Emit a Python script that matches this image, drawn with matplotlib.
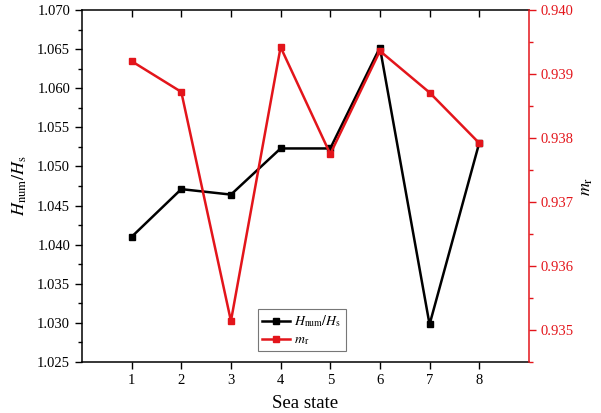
import numpy as np
import matplotlib.pyplot as plt
from matplotlib.ticker import MultipleLocator, AutoMinorLocator

plt.rcParams['font.family'] = 'Liberation Serif'
plt.rcParams['mathtext.fontset'] = 'stix'

sea_state = [1, 2, 3, 4, 5, 6, 7, 8]
h_ratio = [1.0410, 1.0471, 1.0464, 1.0523, 1.0523, 1.0652, 1.0298, 1.0530]
m_r = [0.93920, 0.93872, 0.93514, 0.93942, 0.93775, 0.93936, 0.93871, 0.93792]

red = '#e3151b'

fig = plt.figure(figsize=(6.01, 4.13), dpi=100)
ax = fig.add_axes([0.1364, 0.1235, 0.7436, 0.8523])
ax2 = ax.twinx()

l1, = ax.plot(sea_state, h_ratio, color='black', lw=1.8, marker='s', ms=4.5,
              label=r'$H_{\mathrm{num}}/H_{\mathrm{s}}$')
l2, = ax2.plot(sea_state, m_r, color=red, lw=1.8, marker='s', ms=4.5,
               label=r'$m_{\mathrm{r}}$')

# left axis
ax.set_xlim(0, 9)
ax.set_ylim(1.025, 1.070)
ax.set_xticks(sea_state)
ax.yaxis.set_major_locator(MultipleLocator(0.005))
ax.yaxis.set_minor_locator(AutoMinorLocator(2))
ax.yaxis.set_major_formatter(plt.FormatStrFormatter('%.3f'))
ax.tick_params(axis='y', which='major', direction='out', length=5, width=1, labelsize=10.5)
ax.tick_params(axis='y', which='minor', direction='out', length=3, width=1)
ax.tick_params(axis='x', which='major', direction='out', length=5, width=1, labelsize=10.5,
               top=True)
ax.set_xlabel('Sea state', fontsize=13.5, labelpad=6)
ax.set_ylabel(r'$H_{\mathrm{num}}/H_{\mathrm{s}}$', fontsize=13, labelpad=6)

# right axis
ax2.set_ylim(0.9345, 0.940)
ax2.yaxis.set_major_locator(MultipleLocator(0.001))
ax2.yaxis.set_minor_locator(AutoMinorLocator(2))
ax2.yaxis.set_major_formatter(plt.FormatStrFormatter('%.3f'))
ax2.tick_params(axis='y', which='major', direction='out', length=5, width=1,
                colors=red, labelsize=10.5)
ax2.tick_params(axis='y', which='minor', direction='out', length=3, width=1, colors=red)
ax2.set_ylabel(r'$m_{\mathrm{r}}$', fontsize=13, rotation=90, labelpad=3)
ax2.spines['right'].set_color(red)
ax2.spines['left'].set_visible(False)
ax2.spines['bottom'].set_visible(False)
ax2.spines['top'].set_visible(False)
ax.spines['right'].set_visible(False)
for s in ['left', 'bottom', 'top']:
    ax.spines[s].set_linewidth(1.1)
ax2.spines['right'].set_linewidth(1.1)

# inward ticks along the top edge
for t in ax.xaxis.get_major_ticks():
    t.tick2line.set_marker(3)
    t.tick2line.set_markersize(5)

leg = ax2.legend(handles=[l1, l2], loc='lower left', bbox_to_anchor=(0.394, 0.03),
                 fontsize=10, frameon=True, fancybox=False, handlelength=2.0,
                 handletextpad=0.3, borderpad=0.3, labelspacing=0.3, borderaxespad=0)
leg.get_frame().set_edgecolor('#555555')
leg.get_frame().set_linewidth(0.8)

fig.savefig('out.png', dpi=100)
